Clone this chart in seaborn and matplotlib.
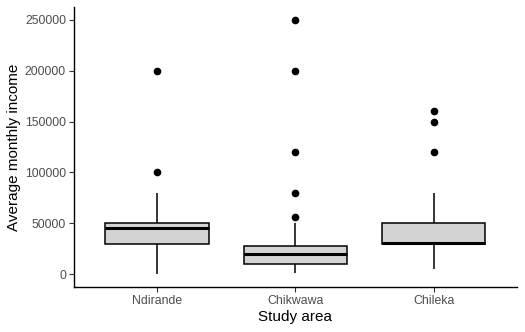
import pandas as pd
import matplotlib
matplotlib.use("Agg")
import matplotlib.pyplot as plt
import seaborn as sns

# Study areas (order on the x axis)
areas = ["Ndirande", "Chikwawa", "Chileka"]

# Average monthly income per respondent
ndirande = [0, 20000, 25000, 30000, 35000, 40000, 45000, 50000, 50000, 50000,
            80000, 100000, 200000]
chikwawa = [1500, 4000, 5000, 7000, 8000, 9000, 10000, 12000, 14000, 15000,
            17000, 18000, 20000, 21000, 22000, 25000, 26000, 27000, 28000,
            50000, 56000, 80000, 120000, 200000, 250000]
chileka = [5000, 15000, 20000, 25000, 30000, 30000, 30000, 30000, 31000,
           40000, 45000, 50000, 50000, 80000, 120000, 150000, 160000]

yticks = [0, 50000, 100000, 150000, 200000, 250000]

df = pd.DataFrame({
    "area": ["Ndirande"] * len(ndirande) + ["Chikwawa"] * len(chikwawa) + ["Chileka"] * len(chileka),
    "income": ndirande + chikwawa + chileka,
})

sns.set_style("ticks")
plt.rcParams["font.family"] = ["Liberation Sans", "DejaVu Sans"]

fig = plt.figure(figsize=(5.25, 3.32), dpi=100)
ax = fig.add_axes([0.1415, 0.1355, 0.8425, 0.8435])

sns.boxplot(data=df, x="area", y="income", order=areas, ax=ax,
            color="#D3D3D3", saturation=1, linecolor="black", linewidth=1.1,
            width=0.75, whis=1.5, showcaps=False,
            medianprops=dict(linewidth=2.2, color="black"),
            flierprops=dict(marker="o", markersize=4.5, markerfacecolor="black",
                            markeredgecolor="black"))

ax.set_xlim(-0.6, 2.6)
ax.set_ylim(-12500, 262500)
ax.set_yticks(yticks)
ax.set_yticklabels([str(v) for v in yticks])

ax.set_xlabel("Study area", fontsize=11, color="black", labelpad=2)
ax.set_ylabel("Average monthly income", fontsize=11, color="black", labelpad=3)
ax.tick_params(axis="both", labelsize=8.8, labelcolor="#4D4D4D", color="#333333",
               length=3.5, width=0.8, pad=2.5)
for side in ["top", "right"]:
    ax.spines[side].set_visible(False)
for side in ["left", "bottom"]:
    ax.spines[side].set_linewidth(1.0)
    ax.spines[side].set_color("black")

fig.savefig("out.png", dpi=100)
